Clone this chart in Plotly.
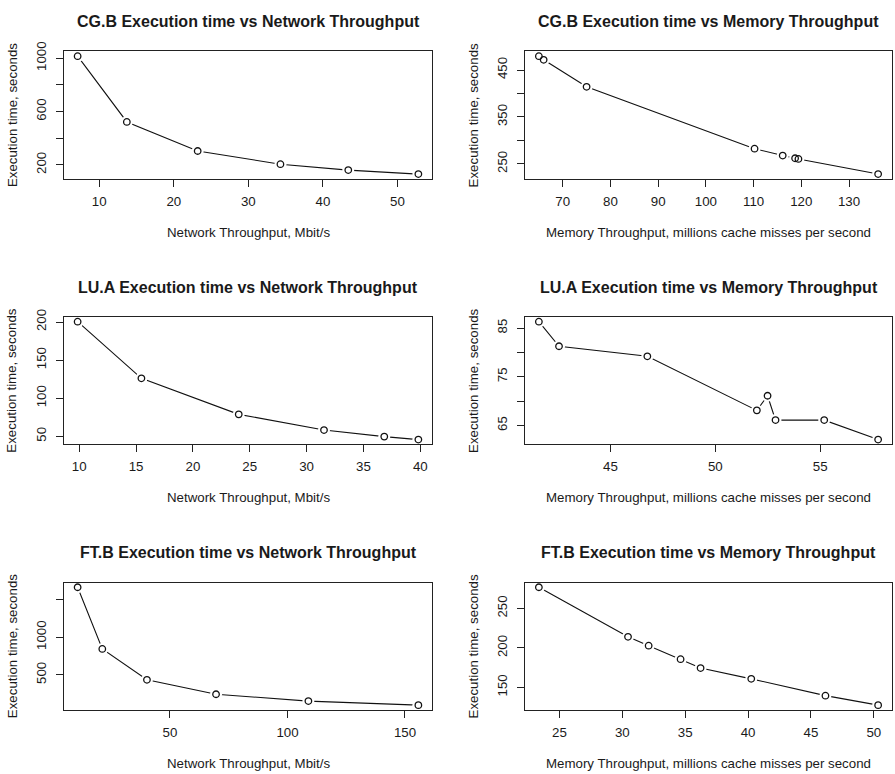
import plotly.graph_objects as go

W, H = 895, 774

# ---------------- data ----------------
cg_net_x = [7.1, 13.7, 23.2, 34.3, 43.4, 52.8]
cg_net_y = [1015, 522, 304, 205, 161, 131]
cg_mem_x = [65.0, 66.0, 75.0, 110.2, 116.1, 118.7, 119.4, 136.1]
cg_mem_y = [479.5, 471.8, 414.2, 282.4, 267.7, 262.0, 260.5, 228.3]
lu_net_x = [9.86, 15.47, 24.03, 31.53, 36.83, 39.83]
lu_net_y = [200.4, 126.1, 78.8, 58.2, 49.6, 45.7]
lu_mem_x = [41.59, 42.55, 46.76, 51.98, 52.49, 52.87, 55.19, 57.76]
lu_mem_y = [86.3, 81.26, 79.2, 68.1, 71.1, 66.1, 66.1, 62.1]
ft_net_x = [10.7, 21.2, 40.2, 69.6, 108.9, 155.7]
ft_net_y = [1660, 844, 435, 244, 153, 100]
ft_mem_x = [23.36, 30.45, 32.09, 34.63, 36.22, 40.25, 46.15, 50.34]
ft_mem_y = [277, 214.1, 202.9, 185.8, 174.5, 160.8, 139.5, 127.5]

titles = [
    "CG.B Execution time vs Network Throughput",
    "CG.B Execution time vs Memory Throughput",
    "LU.A Execution time vs Network Throughput",
    "LU.A Execution time vs Memory Throughput",
    "FT.B Execution time vs Network Throughput",
    "FT.B Execution time vs Memory Throughput",
]
xlabels = [
    "Network Throughput, Mbit/s",
    "Memory Throughput, millions cache misses per second",
] * 3
ylabel = "Execution time, seconds"

x_ticks = [
    [10, 20, 30, 40, 50],
    [70, 80, 90, 100, 110, 120, 130],
    [10, 15, 20, 25, 30, 35, 40],
    [45, 50, 55],
    [50, 100, 150],
    [25, 30, 35, 40, 45, 50],
]
y_ticks = [
    [200, 400, 600, 800, 1000],
    [250, 300, 350, 400, 450],
    [50, 100, 150, 200],
    [65, 70, 75, 80, 85],
    [500, 1000, 1500],
    [150, 200, 250],
]
y_ticktext = [
    ["200", "", "600", "", "1000"],
    ["250", "", "350", "", "450"],
    ["50", "100", "150", "200"],
    ["65", "", "75", "", "85"],
    ["500", "1000", ""],
    ["150", "200", "250"],
]

series = [
    (cg_net_x, cg_net_y), (cg_mem_x, cg_mem_y),
    (lu_net_x, lu_net_y), (lu_mem_x, lu_mem_y),
    (ft_net_x, ft_net_y), (ft_mem_x, ft_mem_y),
]

# ---------------- layout geometry (pixels) ----------------
cols_px = [(64, 432), (525.3, 891.7)]
rows_px = [(42, 171), (311, 440), (580, 709)]

FONT = "Liberation Sans, Arial, Helvetica, sans-serif"
TXT = "#1a1a1a"
LINE = "#222222"


def ext(v):
    lo, hi = min(v), max(v)
    d = (hi - lo) * 0.04
    return [lo - d, hi + d]


fig = go.Figure()
layout = dict(
    width=W, height=H, margin=dict(l=0, r=0, t=0, b=0),
    paper_bgcolor="white", plot_bgcolor="white", showlegend=False,
    annotations=[],
)

for i, (xs, ys) in enumerate(series):
    r, c = divmod(i, 2)
    x0, x1 = cols_px[c]
    ytop, ybot = rows_px[r]
    ax = "" if i == 0 else str(i + 1)
    xa = dict(
        domain=[x0 / W, x1 / W], range=ext(xs), anchor="y" + ax,
        tickvals=x_ticks[i], ticktext=[str(t) for t in x_ticks[i]],
        showline=True, mirror=True, linecolor=LINE, linewidth=1,
        ticks="outside", ticklen=7, tickcolor=LINE, tickwidth=1,
        showgrid=False, zeroline=False, ticklabelstandoff=3,
        tickfont=dict(family=FONT, size=13.3, color=TXT),
    )
    ya = dict(
        domain=[1 - ybot / H, 1 - ytop / H], range=ext(ys), anchor="x" + ax,
        tickvals=y_ticks[i], ticktext=y_ticktext[i], tickangle=-90,
        showline=True, mirror=True, linecolor=LINE, linewidth=1,
        ticks="outside", ticklen=7, tickcolor=LINE, tickwidth=1,
        showgrid=False, zeroline=False, ticklabelstandoff=5,
        tickfont=dict(family=FONT, size=13.3, color=TXT),
    )
    layout["xaxis" + ax] = xa
    layout["yaxis" + ax] = ya

    # line
    fig.add_trace(go.Scatter(x=xs, y=ys, mode="lines", xaxis="x" + ax, yaxis="y" + ax,
                             line=dict(color="#111111", width=1.1), hoverinfo="skip",
                             cliponaxis=False))
    # white gaps around points (type="b" look)
    fig.add_trace(go.Scatter(x=xs, y=ys, mode="markers", xaxis="x" + ax, yaxis="y" + ax,
                             marker=dict(symbol="circle", size=12, color="white",
                                         line=dict(width=0)),
                             hoverinfo="skip", cliponaxis=False))
    # open circles
    fig.add_trace(go.Scatter(x=xs, y=ys, mode="markers", xaxis="x" + ax, yaxis="y" + ax,
                             marker=dict(symbol="circle-open", size=6.5, color="#111111",
                                         line=dict(width=1.3)),
                             cliponaxis=False))

    cx = (x0 + x1) / 2
    cy = (ytop + ybot) / 2
    layout["annotations"] += [
        dict(text="<b>%s</b>" % titles[i], xref="paper", yref="paper",
             x=cx / W, y=1 - (ytop - 30) / H, xanchor="center", yanchor="middle",
             showarrow=False, font=dict(family=FONT, size=16, color=TXT)),
        dict(text=xlabels[i], xref="paper", yref="paper",
             x=cx / W, y=1 - (ybot + 54) / H, xanchor="center", yanchor="middle",
             showarrow=False, font=dict(family=FONT, size=13.3, color=TXT)),
        dict(text=ylabel, xref="paper", yref="paper", textangle=-90,
             x=(x0 - 52) / W, y=1 - cy / H, xanchor="center", yanchor="middle",
             showarrow=False, font=dict(family=FONT, size=13.3, color=TXT)),
    ]

fig.update_layout(**layout)

pin_to_corner = (
    "document.body.style.margin='0';"
    "document.body.style.overflow='hidden';"
    "var gd=document.getElementById('{plot_id}');"
    "gd.style.position='absolute';gd.style.left='0px';gd.style.top='0px';"
)
fig.write_html("out.html", config={"displayModeBar": False}, post_script=pin_to_corner)
